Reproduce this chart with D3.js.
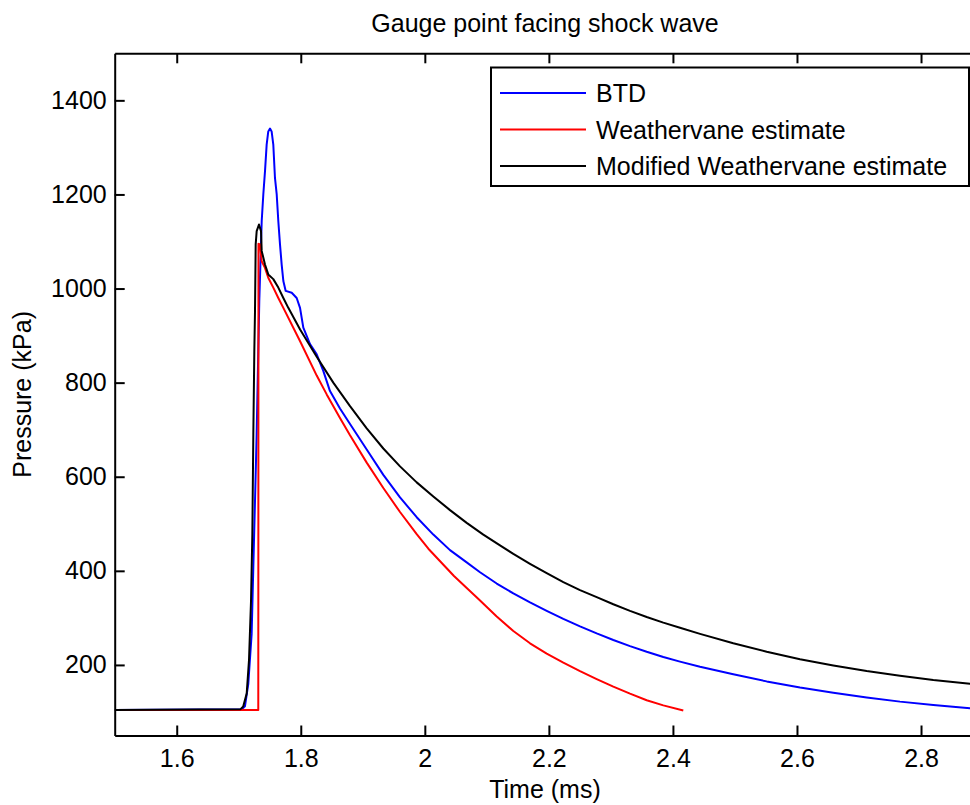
<!DOCTYPE html>
<html>
<head>
<meta charset="utf-8">
<script src="https://cdn.jsdelivr.net/npm/d3@7"></script>
<style>
  body { margin: 0; background: #fff; }
  svg { display: block; font-family: "Liberation Sans", Arial, sans-serif; }
</style>
</head>
<body>
<div id="chart"></div>
<script>
// chart size
const width = 970;
const height = 805;

// tick labels
const xTicks = [1.6, 1.8, 2, 2.2, 2.4, 2.6, 2.8];
const yTicks = [200, 400, 600, 800, 1000, 1200, 1400];

// BTD (blue)
const btdTime = [1.5, 1.705, 1.71, 1.7154, 1.7208, 1.7235, 1.7262, 1.7289, 1.7315, 1.7331, 1.737, 1.7396, 1.7423, 1.745, 1.7476, 1.7504, 1.753, 1.7557, 1.7584, 1.7612, 1.7638, 1.7665, 1.7692, 1.7719, 1.7757, 1.7854, 1.7934, 1.7988, 1.8041, 1.8149, 1.8257, 1.8363, 1.8471, 1.8632, 1.8794, 1.9063, 1.9331, 1.96, 1.9869, 2.0137, 2.0406, 2.0675, 2.089, 2.1159, 2.1427, 2.1696, 2.1965, 2.2233, 2.2502, 2.2771, 2.3039, 2.3308, 2.3577, 2.3845, 2.4114, 2.4437, 2.4973, 2.5512, 2.6049, 2.6586, 2.7124, 2.7661, 2.8198, 2.8789, 2.9];
const btdPressure = [104, 106, 112, 160, 266, 408, 549, 691, 867, 973, 1143, 1200, 1249, 1306, 1334, 1340, 1334, 1306, 1235, 1200, 1143, 1094, 1051, 1016, 995, 991, 980, 959, 917, 882, 860, 825, 782, 745, 712, 658, 604, 556, 514, 477, 444, 418, 397, 373, 352, 333, 315, 298, 282, 267, 253, 240, 228, 217, 207, 196, 180, 165, 152, 141, 131, 122, 115, 108, 106];

// Weathervane estimate (red)
const wvTime = [1.5, 1.7315, 1.7318, 1.7342, 1.737, 1.7423, 1.7476, 1.7557, 1.7638, 1.7719, 1.7989, 1.8257, 1.8418, 1.8632, 1.8794, 1.9063, 1.9331, 1.96, 1.9869, 2.0057, 2.047, 2.089, 2.1159, 2.1427, 2.1696, 2.1965, 2.2233, 2.2502, 2.2771, 2.3039, 2.3308, 2.3577, 2.3845, 2.4167];
const wvPressure = [104, 104, 1095, 1094, 1058, 1044, 1023, 1002, 980, 959, 888, 815, 775, 725, 688, 630, 576, 525, 478, 447, 389, 337, 303, 272, 246, 224, 205, 187, 170, 154, 139, 125, 114, 103];

// Modified Weathervane estimate (black)
const mwvTime = [1.5, 1.703, 1.7073, 1.7128, 1.7165, 1.7198, 1.7219, 1.7235, 1.7251, 1.7262, 1.7273, 1.7289, 1.7326, 1.7359, 1.737, 1.7423, 1.7476, 1.7557, 1.7638, 1.7719, 1.7799, 1.7989, 1.8257, 1.8524, 1.8794, 1.9063, 1.9331, 1.96, 1.9869, 2.0137, 2.0406, 2.0675, 2.0943, 2.1212, 2.1427, 2.1696, 2.1965, 2.2233, 2.2502, 2.2771, 2.3039, 2.3308, 2.3577, 2.3845, 2.4114, 2.4437, 2.4973, 2.5512, 2.6049, 2.6586, 2.7124, 2.7661, 2.8198, 2.8789, 2.9];
const mwvPressure = [104, 106, 112, 139, 210, 337, 478, 691, 867, 952, 1094, 1122, 1136, 1122, 1080, 1051, 1030, 1020, 1002, 980, 959, 913, 855, 800, 750, 703, 660, 622, 588, 558, 529, 502, 477, 454, 436, 415, 395, 376, 359, 344, 329, 315, 302, 290, 279, 266, 246, 228, 212, 199, 187, 177, 168, 160, 157];

const seriesNames = ["BTD", "Weathervane estimate", "Modified Weathervane estimate"];
const seriesColors = ["#0000ff", "#ff0000", "#000000"];

const svg = d3.select("#chart")
    .append("svg")
    .attr("width", width)
    .attr("height", height);

svg.append("rect").attr("width", width).attr("height", height).attr("fill", "#fff");

// plot box (right edge falls just outside the window)
const plotLeft = 114.7, plotTop = 53.3, plotBottom = 735.5;
const x = d3.scaleLinear()
    .domain([1.5, 2.9])
    .range([plotLeft, plotLeft + (2.9 - 1.5) * 620.25]);
const y = d3.scaleLinear()
    .domain([50, 1500])
    .range([plotBottom, plotTop]);
const plotRight = x(2.9);

const fontSize = 25;

// lines
const line = d3.line().x(d => d[0]).y(d => d[1]);
const series = [
    d3.zip(btdTime, btdPressure),
    d3.zip(wvTime, wvPressure),
    d3.zip(mwvTime, mwvPressure)
];

svg.append("defs").append("clipPath").attr("id", "plot-clip")
    .append("rect")
    .attr("x", plotLeft).attr("y", plotTop)
    .attr("width", plotRight - plotLeft).attr("height", plotBottom - plotTop);

svg.append("g")
    .attr("clip-path", "url(#plot-clip)")
    .selectAll("path")
    .data(series)
    .enter().append("path")
    .attr("d", d => line(d.map(p => [x(p[0]), y(p[1])])))
    .attr("fill", "none")
    .attr("stroke", (d, i) => seriesColors[i])
    .attr("stroke-width", 2)
    .attr("stroke-linejoin", "round");

// axes, ticks pointing inward
const xAxis = d3.axisBottom(x)
    .tickValues(xTicks)
    .tickFormat(d3.format("~g"))
    .tickSizeInner(-10)
    .tickSizeOuter(0)
    .tickPadding(14);

const xAxisTop = d3.axisTop(x)
    .tickValues(xTicks)
    .tickFormat("")
    .tickSizeInner(-10)
    .tickSizeOuter(0);

const yAxis = d3.axisLeft(y)
    .tickValues(yTicks)
    .tickFormat(d3.format("d"))
    .tickSizeInner(-10)
    .tickSizeOuter(0)
    .tickPadding(8);

const yAxisRight = d3.axisRight(y)
    .tickValues(yTicks)
    .tickFormat("")
    .tickSizeInner(-10)
    .tickSizeOuter(0);

const gx = svg.append("g").attr("transform", `translate(0,${plotBottom})`).call(xAxis);
const gxt = svg.append("g").attr("transform", `translate(0,${plotTop})`).call(xAxisTop);
const gy = svg.append("g").attr("transform", `translate(${plotLeft},0)`).call(yAxis);
const gyr = svg.append("g").attr("transform", `translate(${plotRight},0)`).call(yAxisRight);

[gx, gxt, gy, gyr].forEach(g => {
    g.selectAll(".domain").attr("stroke", "#000").attr("stroke-width", 2);
    g.selectAll(".tick line").attr("stroke", "#000").attr("stroke-width", 2);
    g.selectAll(".tick text")
        .attr("fill", "#000")
        .style("font-size", fontSize + "px")
        .style("font-family", "'Liberation Sans', Arial, sans-serif");
});

// title and axis labels
svg.append("text")
    .attr("x", 545)
    .attr("y", 32)
    .attr("text-anchor", "middle")
    .style("font-size", fontSize + "px")
    .text("Gauge point facing shock wave");

svg.append("text")
    .attr("x", 545)
    .attr("y", 798)
    .attr("text-anchor", "middle")
    .style("font-size", fontSize + "px")
    .text("Time (ms)");

svg.append("text")
    .attr("transform", `translate(31,${(plotTop + plotBottom) / 2}) rotate(-90)`)
    .attr("text-anchor", "middle")
    .style("font-size", fontSize + "px")
    .text("Pressure (kPa)");

// legend
const legend = svg.append("g");
legend.append("rect")
    .attr("x", 491).attr("y", 67.5)
    .attr("width", 478).attr("height", 118.5)
    .attr("fill", "#fff")
    .attr("stroke", "#000")
    .attr("stroke-width", 2);

const legendRows = legend.selectAll("g.row")
    .data(seriesNames)
    .enter().append("g")
    .attr("class", "row")
    .attr("transform", (d, i) => `translate(0,${93 + i * 36.5})`);

legendRows.append("line")
    .attr("x1", 500).attr("x2", 586)
    .attr("y1", 0).attr("y2", 0)
    .attr("stroke", (d, i) => seriesColors[i])
    .attr("stroke-width", 2);

legendRows.append("text")
    .attr("x", 596)
    .attr("y", 9)
    .style("font-size", fontSize + "px")
    .text(d => d);
</script>
</body>
</html>
